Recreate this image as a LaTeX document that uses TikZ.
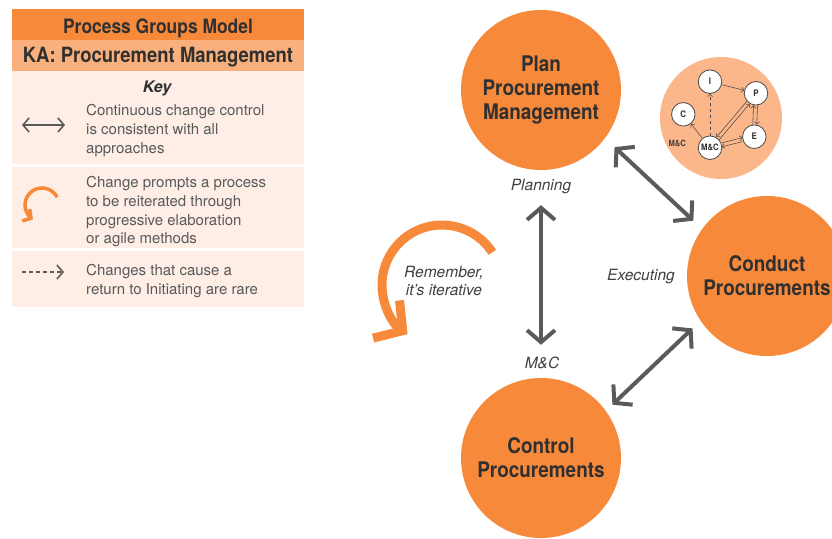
\documentclass[tikz,border=0pt]{standalone}
\usepackage{fontspec}
\setmainfont{TeX Gyre Heros}
\newfontfamily\cnd[FakeStretch=0.88]{TeX Gyre Heros}
\usetikzlibrary{arrows.meta,calc}
\definecolor{orgD}{HTML}{F7893B}
\definecolor{orgM}{HTML}{FAB07C}
\definecolor{orgL}{HTML}{FEEEE6}
\definecolor{orgS}{HTML}{FBB68A}
\definecolor{txtD}{HTML}{303030}
\definecolor{txtG}{HTML}{58595B}
\definecolor{txtL}{HTML}{404040}
\definecolor{arrG}{HTML}{5A5A5A}
\definecolor{smline}{HTML}{4A4A4A}
\begin{document}
\begin{tikzpicture}[x=1pt,y=-1pt,
  ttl/.style={font=\cnd\bfseries\fontsize{19.8}{24}\selectfont, text=txtD, inner sep=0pt, anchor=base},
  keytxt/.style={font=\fontsize{15}{18.8}\selectfont, text=txtG, align=left, inner sep=0pt, anchor=north west},
  bigc/.style={circle, fill=orgD, minimum size=160pt, inner sep=0pt, text=txtD, align=center, font=\cnd\bfseries\fontsize{21.5}{24}\selectfont},
  lbl/.style={font=\itshape\fontsize{15.5}{18}\selectfont, text=txtL, inner sep=0pt, align=center, anchor=base},
  bigarr/.style={draw=arrG, line width=4pt, {Straight Barb[length=12pt,width=28pt]}-{Straight Barb[length=12pt,width=28pt]}},
  smc/.style={circle, draw=smline, fill=white, line width=0.8pt, minimum size=23.5pt, inner sep=0pt, font=\cnd\bfseries\fontsize{9}{10}\selectfont, text=txtD},
  sar/.style={draw=smline, line width=0.55pt, -{Straight Barb[length=2.5pt,width=5pt]}},
  keyarr/.style={draw=arrG, line width=1.6pt},
]
\useasboundingbox (0,0) rectangle (832,538);

% ---------- key box ----------
\fill[orgD] (12,9) rectangle (304,40);
\fill[orgM] (12,40) rectangle (304,71);
\fill[orgL] (12,71) rectangle (304,164);
\fill[orgL] (12,167) rectangle (304,248);
\fill[orgL] (12,251) rectangle (304,307);

\node[ttl] (title) at (158,33) {Process Groups Model};
\node[ttl, font=\cnd\bfseries\fontsize{21}{24}\selectfont] (ka) at (158,62) {KA: Procurement Management};
\node[font=\bfseries\itshape\fontsize{16}{18}\selectfont, text=txtD, inner sep=0pt, anchor=base] (key) at (157,92) {Key};

\node[keytxt] (k1) at (86,104) {Continuous change control\\is consistent with all\\approaches};
\node[keytxt] (k2) at (86,176) {Change prompts a process\\to be reiterated through\\progressive elaboration\\or agile methods};
\node[keytxt] (k3) at (86,264) {Changes that cause a\\return to Initiating are rare};

\coordinate (ka1) at (22,125);
\coordinate (ka2) at (65,125);
\draw[keyarr, {Straight Barb[length=6pt,width=14pt]}-{Straight Barb[length=6pt,width=14pt]}] (ka1) -- (ka2);

\coordinate (kc) at (42,205);
\draw[draw=orgD, line width=3.5pt, -{Straight Barb[length=6pt,width=14pt]}] ($(kc)+(-27:17)$) arc[start angle=-27, end angle=-238, radius=17];

\coordinate (kd1) at (22,272);
\coordinate (kd2) at (64,272);
\draw[keyarr, dash pattern=on 4pt off 3pt, -{Straight Barb[length=6pt,width=14pt]}] (kd1) -- (kd2);

% ---------- main circles ----------
\node[bigc] (plan) at (541,90) {Plan\\Procurement\\Management};
\node[bigc] (conduct) at (767,276) {Conduct\\Procurements};
\node[bigc] (control) at (541,458) {Control\\Procurements};

\draw[bigarr, shorten <=35pt, shorten >=33pt] (plan.south) -- (control.north);
\draw[bigarr, shorten <=13pt, shorten >=12pt] (plan.-37.6) -- (conduct.144.7);
\draw[bigarr, shorten <=11pt, shorten >=9pt] (conduct.214.7) -- (control.36.4);

\node[lbl] (lplan) at (541,190) {Planning};
\node[lbl] (lexec) at (641,280) {Executing};
\node[lbl] (lmc) at (542,368) {M\&C};
\node[lbl, anchor=north] (lrem) at (444,265.5) {Remember,\\it’s iterative};

% iterative arc
\coordinate (ic) at (442,285);
\draw[draw=orgD, line width=9pt, -{Straight Barb[length=20pt,width=46pt]}] ($(ic)+(-33:60)$) arc[start angle=-33, end angle=-235, radius=60];

% ---------- small process group circle ----------
\node[circle, fill=orgS, minimum size=122pt, inner sep=0pt] (pg) at (721,118) {};
\node[smc] (sI) at (710,81.7) {I};
\node[smc] (sP) at (756,93.3) {P};
\node[smc] (sC) at (683.3,114.3) {C};
\node[smc] (sE) at (754.3,136.7) {E};
\node[smc, font=\cnd\bfseries\fontsize{8.8}{10}\selectfont] (sM) at (710,147.7) {M\&C};
\node[font=\cnd\bfseries\fontsize{8.6}{10}\selectfont, text=txtL, inner sep=0pt] (smcl) at (677.3,143.3) {M\&C};

\draw[sar] (sI) -- (sP);
\draw[sar, dashed] (sM) -- (sI);
\draw[sar] (sM) -- (sC);
\draw[sar, transform canvas={xshift=1.4pt,yshift=-1.2pt}] (sM) -- (sP);
\draw[sar, transform canvas={xshift=-1.4pt,yshift=1.2pt}] (sP) -- (sM);
\draw[sar, transform canvas={xshift=2pt}] (sP) -- (sE);
\draw[sar, transform canvas={xshift=-2pt}] (sE) -- (sP);
\draw[sar, transform canvas={yshift=2pt}] (sM) -- (sE);
\draw[sar, transform canvas={yshift=-2pt}] (sE) -- (sM);
\end{tikzpicture}
\end{document}
